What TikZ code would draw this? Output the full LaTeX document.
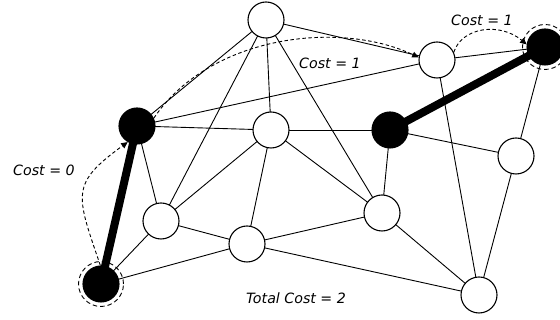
\documentclass[tikz,border=0pt]{standalone}
\usepackage{fontspec}
\setmainfont{DejaVu Sans}
\usetikzlibrary{arrows.meta}
\pgfdeclarelayer{background}
\pgfsetlayers{background,main}
\tikzset{
  vtx/.style={circle,draw=black,fill=white,line width=1.1pt,minimum size=36pt,inner sep=0pt},
  vblk/.style={vtx,fill=black},
  edge/.style={line width=0.9pt},
  heavy/.style={line width=8pt},
  hop/.style={line width=0.9pt,dash pattern=on 3.5pt off 2.5pt,-{Triangle[length=6.5pt,width=6pt]}},
  ring/.style={line width=0.9pt,dash pattern=on 4.5pt off 3pt},
  lbl/.style={font=\fontsize{14.2}{16}\selectfont\itshape,inner sep=0pt}
}
\begin{document}
\begin{tikzpicture}[x=1pt,y=1pt]
\clip (0,0) rectangle (560,320);
\node[vtx] (A) at (266,300) {};
\node[vblk] (B) at (137,194) {};
\node[vtx] (C) at (271,190) {};
\node[vtx] (D) at (437,260) {};
\node[vblk] (E) at (545,273) {};
\node[vblk] (F) at (390,190) {};
\node[vtx] (G) at (516,164) {};
\node[vtx] (H) at (161,99) {};
\node[vtx] (I) at (247,76) {};
\node[vtx] (J) at (382,107) {};
\node[vblk] (K) at (101,36) {};
\node[vtx] (L) at (479,25) {};
\begin{pgfonlayer}{background}
\foreach \u/\v in {A/B,A/C,A/D,A/H,A/J,B/C,B/D,B/H,C/F,C/H,C/I,C/J,D/E,D/L,E/G,F/G,F/J,G/L,H/I,H/K,I/J,I/K,I/L,J/L}
  \draw[edge] (\u.center) -- (\v.center);
\draw[heavy] (B.center) -- (K.center);
\draw[heavy] (F.center) -- (E.center);
\end{pgfonlayer}
\draw[ring] (K) circle (22.5pt);
\draw[ring] (E) circle (22.5pt);
\draw[hop] (K.92) .. controls (76,126) and (70,136) .. (B.240);
\draw[hop] (B.25) .. controls (210,285) and (340,300) .. (D.172);
\draw[hop] (D.25) .. controls (462,293) and (500,298) .. (E.172);
\node[lbl] (t1) at (482,300) {Cost = 1};
\node[lbl] (t2) at (330,257) {Cost = 1};
\node[lbl] (t3) at (44,150) {Cost = 0};
\node[lbl] (t4) at (296,22) {Total Cost = 2};
\end{tikzpicture}
\end{document}
